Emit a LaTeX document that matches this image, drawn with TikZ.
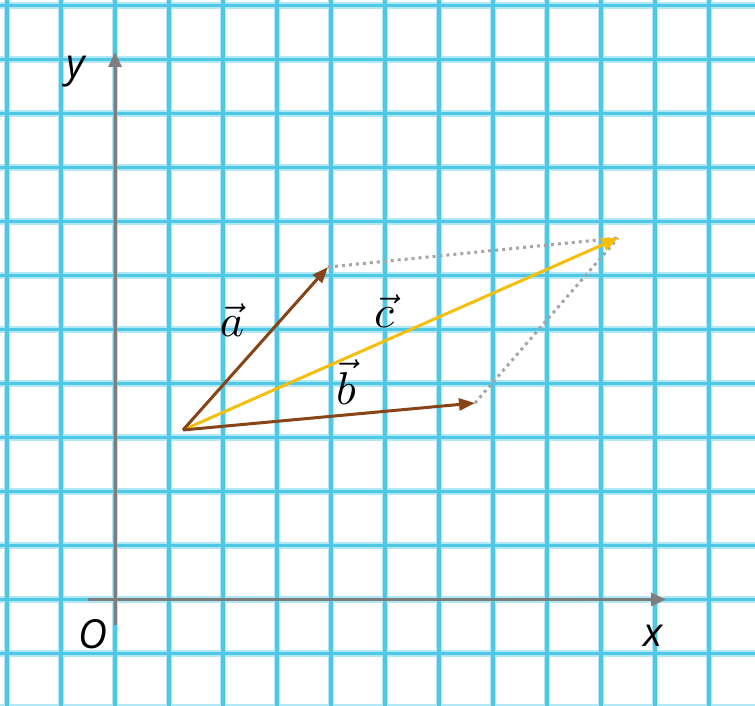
\documentclass[tikz,border=0pt]{standalone}
\usepackage{fontspec}
\newfontfamily\labfont{Open Sans}
\usetikzlibrary{arrows.meta}
\definecolor{gridcore}{RGB}{78,200,228}
\definecolor{gridhalo}{RGB}{178,232,245}
\definecolor{axisgray}{RGB}{125,125,125}
\definecolor{vecbrown}{RGB}{135,68,22}
\definecolor{vecyellow}{RGB}{245,190,10}
\definecolor{dotgray}{RGB}{165,165,165}
\tikzset{
  axisline/.style={draw=axisgray, line width=3pt, -{Triangle[length=15pt,width=13pt]}},
  vecline/.style={draw=vecbrown, line width=3pt, -{Triangle[length=16pt,width=12pt]}},
  sumline/.style={draw=vecyellow, line width=3pt, -{Triangle[length=16pt,width=13pt]}},
  helpline/.style={draw=dotgray, line width=3pt, dash pattern=on 3pt off 4pt},
  axislabel/.style={font=\labfont\itshape\fontsize{40}{40}\selectfont, inner sep=0pt},
  veclabel/.style={inner sep=0pt},
}
\begin{document}
\begin{tikzpicture}[x=1pt,y=-1pt]
\useasboundingbox (0,0) rectangle (755,706);
\fill[white] (0,0) rectangle (755,706);
% grid
\foreach \k in {0,...,13} {
  \draw[gridhalo, line width=6.5pt] ({7+54*\k},0) -- ({7+54*\k},706);
  \draw[gridhalo, line width=6.5pt] (0,{5.5+54*\k}) -- (755,{5.5+54*\k});
}
\foreach \k in {0,...,13} {
  \draw[gridcore, line width=3.5pt] ({7+54*\k},0) -- ({7+54*\k},706);
  \draw[gridcore, line width=3.5pt] (0,{5.5+54*\k}) -- (755,{5.5+54*\k});
}
% axes
\coordinate (ybot) at (115,625);
\coordinate (ytop) at (115,52);
\coordinate (xleft) at (88,599.5);
\coordinate (xright) at (666,599.5);
\draw[axisline] (ybot) -- (ytop);
\draw[axisline] (xleft) -- (xright);
\node[axislabel] (ylab) at (76,72) {y};
\node[axislabel] (xlab) at (653,636) {x};
\node[axislabel] (olab) at (93,634) {O};
% vectors
\coordinate (S) at (183,430);
\coordinate (A) at (328,267);
\coordinate (B) at (475,403);
\coordinate (C) at (618,238);
\draw[helpline] (A) -- (C);
\draw[helpline] (B) -- (C);
\draw[sumline] (S) -- (C);
\draw[vecline] (S) -- (A);
\draw[vecline] (S) -- (B);
\node[veclabel] (alab) at (232,320) {\scalebox{4.6}{$\vec{a}$}};
\node[veclabel] (blab) at (346,382) {\scalebox{4.6}{$\vec{b}$}};
\node[veclabel] (clab) at (384,311) {\scalebox{4.6}{$\vec{c}$}};
\end{tikzpicture}
\end{document}
